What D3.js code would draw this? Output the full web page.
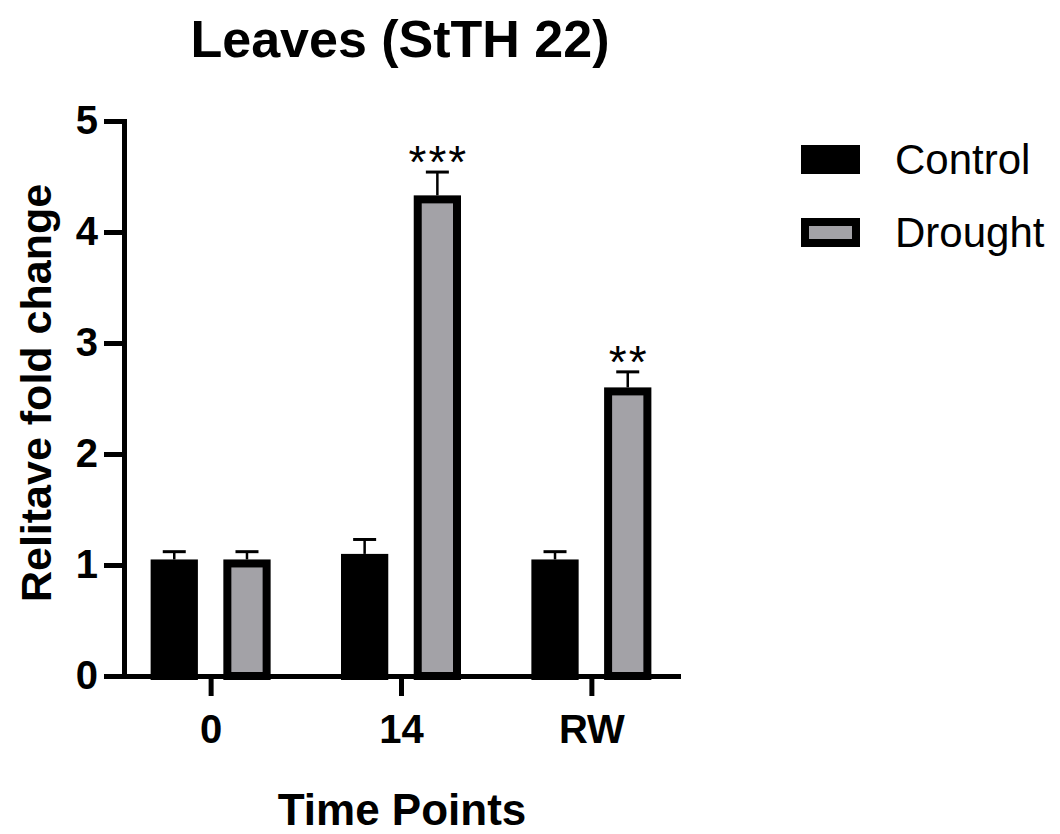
<!doctype html>
<html lang="en">
<head>
  <style>
    body { margin: 0; background: #fff; }
    text { font-family: "Liberation Sans", Arial, sans-serif; }
    .axis path, .axis line { stroke: #000; stroke-width: 5px; }
    .axis .domain { stroke-linecap: square; }
    .tick-label { font-size: 40px; font-weight: bold; }
  </style>
  <script src="https://d3js.org/d3.v7.min.js"></script>
</head>
<body>
  <script>
    const timePoints = ["0", "14", "RW"];
    const seriesNames = ["Control", "Drought"];
    const controlMean = [1.05, 1.10, 1.05];
    const controlErr = [0.07, 0.13, 0.07];
    const droughtMean = [1.05, 4.33, 2.60];
    const droughtErr = [0.07, 0.21, 0.14];
    const droughtStars = ["", "***", "**"];
    const yTicks = [0, 1, 2, 3, 4, 5];

    const fills = { Control: "#000000", Drought: "#a3a2a7" };
    const bw = 8; // bar border

    const rows = [];
    timePoints.forEach((t, i) => {
      rows.push({ group: t, series: "Control", value: controlMean[i], err: controlErr[i], star: "" });
      rows.push({ group: t, series: "Drought", value: droughtMean[i], err: droughtErr[i], star: droughtStars[i] });
    });

    const svg = d3.select("body").append("svg")
      .attr("width", 1060)
      .attr("height", 834);

    const x0 = d3.scalePoint().domain(timePoints).range([124, 678]).padding(0.455);
    const x1 = d3.scaleBand().domain(seriesNames).range([-60, 60]).paddingInner(0.35);
    const y = d3.scaleLinear().domain([0, 5]).range([676, 121]);

    // bars
    svg.append("g").selectAll("rect")
      .data(rows)
      .join("rect")
      .attr("x", d => x0(d.group) + x1(d.series) + bw / 2)
      .attr("y", d => y(d.value) + bw / 2)
      .attr("width", x1.bandwidth() - bw)
      .attr("height", d => y(0) - y(d.value) - bw / 2)
      .attr("fill", d => fills[d.series])
      .attr("stroke", "#000")
      .attr("stroke-width", bw);

    // error bars
    const eb = svg.append("g").attr("stroke", "#000");
    rows.forEach(d => {
      const cx = x0(d.group) + x1(d.series) + x1.bandwidth() / 2;
      eb.append("line")
        .attr("x1", cx).attr("x2", cx)
        .attr("y1", y(d.value)).attr("y2", y(d.value + d.err))
        .attr("stroke-width", 2.5);
      eb.append("line")
        .attr("x1", cx - 11.5).attr("x2", cx + 11.5)
        .attr("y1", y(d.value + d.err)).attr("y2", y(d.value + d.err))
        .attr("stroke-width", 3);
      if (d.star) {
        svg.append("text")
          .attr("x", cx + 1)
          .attr("y", y(d.value + d.err) + 6)
          .attr("text-anchor", "middle")
          .style("font-size", "46px")
          .style("letter-spacing", "2px")
          .text(d.star);
      }
    });

    // axes
    svg.append("g")
      .attr("class", "axis")
      .attr("transform", "translate(124,0)")
      .call(d3.axisLeft(y).tickValues(yTicks).tickFormat(d3.format("d")).tickSize(20).tickSizeOuter(0).tickPadding(6))
      .selectAll("text")
      .attr("class", "tick-label");

    svg.append("g")
      .attr("class", "axis")
      .attr("transform", `translate(0,${y(0)})`)
      .call(d3.axisBottom(x0).tickSize(20).tickSizeOuter(0).tickPadding(19))
      .selectAll("text")
      .attr("class", "tick-label");

    svg.selectAll(".axis text").attr("fill", "#000");

    // titles
    svg.append("text")
      .attr("x", 400).attr("y", 57)
      .attr("text-anchor", "middle")
      .style("font-size", "52px").style("font-weight", "bold")
      .text("Leaves (StTH 22)");

    svg.append("text")
      .attr("x", 402).attr("y", 825)
      .attr("text-anchor", "middle")
      .style("font-size", "44px").style("font-weight", "bold")
      .text("Time Points");

    svg.append("text")
      .attr("transform", "translate(51,393) rotate(-90)")
      .attr("text-anchor", "middle")
      .style("font-size", "43px").style("font-weight", "bold")
      .text("Relitave fold change");

    // legend
    const legend = svg.append("g").selectAll("g")
      .data(seriesNames)
      .join("g")
      .attr("transform", (d, i) => `translate(801,${145 + i * 73})`);

    legend.append("rect")
      .attr("x", bw / 2).attr("y", bw / 2)
      .attr("width", 59 - bw).attr("height", 29 - bw)
      .attr("fill", d => fills[d])
      .attr("stroke", "#000")
      .attr("stroke-width", bw);

    legend.append("text")
      .attr("x", 94).attr("y", 29)
      .style("font-size", "42px")
      .text(d => d);
  </script>
</body>
</html>
